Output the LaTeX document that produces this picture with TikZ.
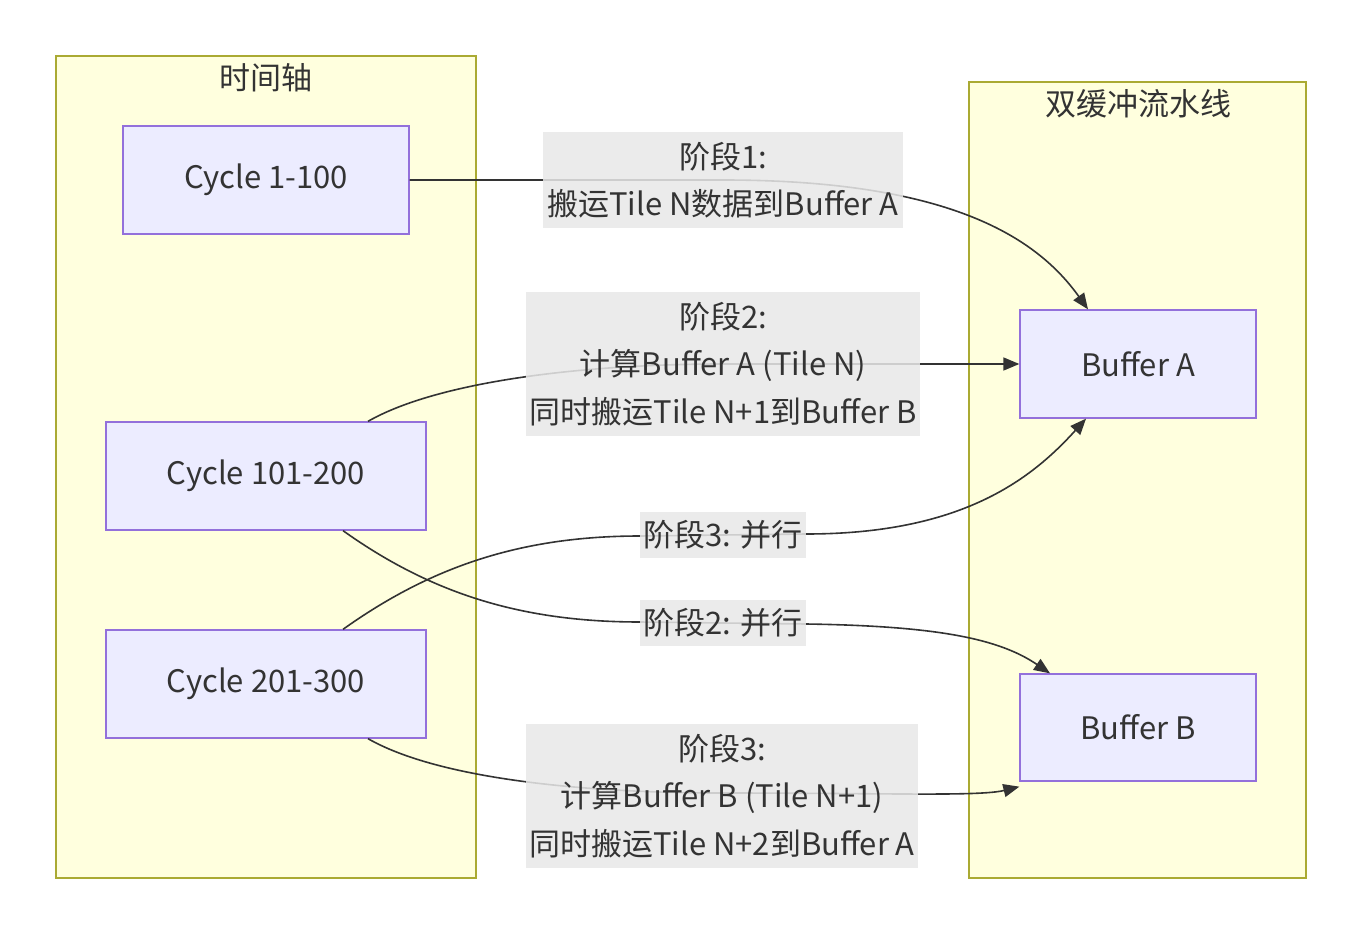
\documentclass[tikz,border=0pt]{standalone}
\usepackage{fontspec}
\setmainfont{Noto Sans CJK SC}
\usetikzlibrary{arrows.meta}
\definecolor{clfill}{HTML}{FFFFDE}
\definecolor{clline}{HTML}{AAAA33}
\definecolor{ndfill}{HTML}{ECECFF}
\definecolor{ndline}{HTML}{9370DB}
\definecolor{txt}{HTML}{333333}
\definecolor{lbfill}{HTML}{E8E8E8}
\begin{document}
\begin{tikzpicture}[x=1pt,y=-1pt,
  font=\fontsize{31}{47.5}\selectfont,
  cluster/.style={draw=clline,fill=clfill,line width=1.3pt},
  boxnode/.style={draw=ndline,fill=ndfill,line width=1.3pt,text=txt,inner sep=0pt,minimum height=108pt},
  elabel/.style={fill=lbfill,fill opacity=0.85,text opacity=1,text=txt,inner sep=0pt,align=center},
  conn/.style={draw=txt,line width=1.6pt,-{Triangle[length=16pt,width=13pt]}},
  title/.style={text=txt}]
\useasboundingbox (0,0) rectangle (1362,933);
\fill[white] (0,0) rectangle (1362,933);
% clusters
\draw[cluster] (56,56) rectangle (476,878);
\draw[cluster] (969,82) rectangle (1306,878);
\node[title] (t1) at (266,78) {时间轴};
\node[title] (t2) at (1138,104) {双缓冲流水线};
% nodes
\node[boxnode,minimum width=286pt] (c1) at (266,180) {Cycle 1-100};
\node[boxnode,minimum width=320pt] (c2) at (266,476) {Cycle 101-200};
\node[boxnode,minimum width=320pt] (c3) at (266,684) {Cycle 201-300};
\node[boxnode,minimum width=236pt] (ba) at (1138,364) {Buffer A};
\node[boxnode,minimum width=236pt,minimum height=107pt] (bb) at (1138,727.5) {Buffer B};
% label anchors
\coordinate (p1) at (723,180);
\coordinate (p2) at (723,364);
\coordinate (p3a) at (640,536);
\coordinate (p3b) at (806,534);
\coordinate (p4a) at (640,622);
\coordinate (p4b) at (806,624);
\coordinate (p5) at (722,793);
% connectors
\draw[conn] (c1.east) -- (p1) .. controls +(230,0) and +(-50,-70) .. ([xshift=-50pt]ba.north);
\draw[conn] ([xshift=102pt]c2.north) .. controls +(70,-40) and +(-140,0) .. (p2) -- (ba.west);
\draw[conn] ([xshift=77pt]c3.north) .. controls +(87,-62) and +(-120,0) .. (p3a) -- (p3b) .. controls +(154,0) and +(-56,62) .. ([xshift=-52pt]ba.south);
\draw[conn] ([xshift=77pt]c2.south) .. controls +(87,62) and +(-120,0) .. (p4a) -- (p4b) .. controls +(134,2) and +(-50,-34) .. ([xshift=-88pt]bb.north);
\draw[conn] ([xshift=102pt]c3.south) .. controls +(70,40) and +(-140,0) .. (p5) .. controls +(160,0) and +(-40,10) .. ([yshift=-5pt]bb.south west);
% edge labels
\node[elabel,minimum width=360pt,minimum height=96pt] (l1) at (723,180) {阶段1:\\搬运Tile N数据到Buffer A};
\node[elabel,minimum width=394pt,minimum height=144pt] (l2) at (723,364) {阶段2:\\计算Buffer A (Tile N)\\同时搬运Tile N+1到Buffer B};
\node[elabel,minimum width=166pt,minimum height=46pt] (l3) at (723,535) {阶段3: 并行};
\node[elabel,minimum width=166pt,minimum height=46pt] (l4) at (723,623) {阶段2: 并行};
\node[elabel,minimum width=392pt,minimum height=144pt] (l5) at (722,796) {阶段3:\\计算Buffer B (Tile N+1)\\同时搬运Tile N+2到Buffer A};
\end{tikzpicture}
\end{document}
